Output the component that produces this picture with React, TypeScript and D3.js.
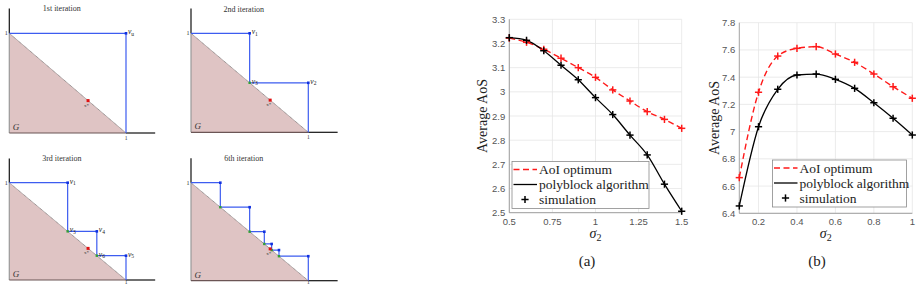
import * as d3 from 'd3';
import React from 'react';

// ---- left: polyblock iterations (normalized coordinates) ----
const iterTitles = ['1st iteration', '2nd iteration', '3rd iteration', '6th iteration'];
const outerCorners = [
  [[1, 1]],
  [[0.5, 1], [1, 0.5]],
  [[0.5, 1], [0.75, 0.5], [1, 0.25]],
  [[0.25, 1], [0.5, 0.75], [0.625, 0.5], [0.6875, 0.375], [0.75, 0.3125], [1, 0.25]],
];
const innerCorners = [
  [],
  [[0.5, 0.5]],
  [[0.5, 0.5], [0.75, 0.25]],
  [[0.25, 0.75], [0.5, 0.5], [0.625, 0.375], [0.6875, 0.3125], [0.75, 0.25]],
];
const outerLabels = [['u'], ['1', '2'], ['1', '4', '5'], []];
const innerLabels = [[], ['3'], ['3', '6'], []];
const xStar = [0.675, 0.325];

// ---- right: average AoS vs sigma_2 ----
const sigmaA = [0.5, 0.6, 0.7, 0.8, 0.9, 1.0, 1.1, 1.2, 1.3, 1.4, 1.5];
const optimumA = [3.222, 3.205, 3.176, 3.139, 3.1, 3.06, 3.008, 2.962, 2.918, 2.886, 2.849];
const polyblockA = [3.224, 3.213, 3.17, 3.11, 3.05, 2.976, 2.906, 2.821, 2.739, 2.618, 2.506];
const sigmaB = [0.1, 0.2, 0.3, 0.4, 0.5, 0.6, 0.7, 0.8, 0.9, 1.0];
const optimumB = [6.662, 7.289, 7.555, 7.612, 7.624, 7.57, 7.509, 7.423, 7.33, 7.245];
const polyblockB = [6.454, 7.036, 7.311, 7.416, 7.423, 7.384, 7.318, 7.212, 7.098, 6.975];
const xTicksA = [0.5, 0.75, 1, 1.25, 1.5];
const yTicksA = [2.5, 2.6, 2.7, 2.8, 2.9, 3, 3.1, 3.2, 3.3];
const xTicksB = [0.2, 0.4, 0.6, 0.8, 1];
const yTicksB = [6.4, 6.6, 6.8, 7, 7.2, 7.4, 7.6, 7.8];
const legendLabels = ['AoI optimum', 'polyblock algorithm', 'simulation'];

const serif = '"Liberation Serif", "DejaVu Serif", serif';
const sans = '"Liberation Sans", Arial, sans-serif';
const BLUE = '#3d5cf0';

const panels = [
  { ox: 9.3, oy: 133, ux: 116.7, uy: 99.7 },
  { ox: 191, oy: 132.3, ux: 117.3, uy: 99 },
  { ox: 9.3, oy: 280, ux: 116.7, uy: 97.3 },
  { ox: 191, oy: 280.7, ux: 117.3, uy: 98 },
];

function VLabel({ x, y, sub }) {
  return (
    <text x={x} y={y} fontFamily={serif} fontSize={7.5} fill="#222">
      <tspan fontStyle="italic">v</tspan>
      <tspan fontSize={5.5} dy={1.5}>{sub}</tspan>
    </text>
  );
}

function IterPanel({ idx }) {
  const p = panels[idx];
  const x = d3.scaleLinear().domain([0, 1]).range([p.ox, p.ox + p.ux]);
  const y = d3.scaleLinear().domain([0, 1]).range([p.oy, p.oy - p.uy]);
  const outer = outerCorners[idx];
  const inner = innerCorners[idx];
  const stair = [[0, 1]];
  outer.forEach((c, i) => {
    stair.push(c);
    stair.push(i < inner.length ? inner[i] : [1, 0]);
  });
  const line = d3.line().x(d => x(d[0])).y(d => y(d[1]));
  const tri = [[0, 0], [0, 1], [1, 0]];
  return (
    <g>
      <text x={x(0.45)} y={y(1.22)} textAnchor="middle" fontFamily={serif} fontSize={8} fill="#333">
        {iterTitles[idx]}
      </text>
      <path d={line(tri) + 'Z'} fill="#dfc4c4" stroke="none" />
      <line x1={x(0)} y1={y(1)} x2={x(1)} y2={y(0)} stroke="#555" strokeWidth={0.7} strokeDasharray="1,0.6" />
      <line x1={x(0)} y1={y(0)} x2={x(0)} y2={y(1)} stroke="#999" strokeWidth={1.2} />
      <line x1={x(0)} y1={y(0)} x2={x(1)} y2={y(0)} stroke="#6b5555" strokeWidth={1.2} />
      <line x1={x(0)} y1={y(1)} x2={x(0)} y2={y(1.25)} stroke="#111" strokeWidth={1.2} />
      <line x1={x(1)} y1={y(0)} x2={x(1.25)} y2={y(0)} stroke="#111" strokeWidth={1.2} />
      <path d={line(stair)} fill="none" stroke={BLUE} strokeWidth={1.2} />
      {outer.map((c, i) => (
        <rect key={'o' + i} x={x(c[0]) - 1.3} y={y(c[1]) - 1.3} width={2.6} height={2.6} fill="#1030e0" />
      ))}
      {inner.map((c, i) => (
        <rect key={'i' + i} x={x(c[0]) - 1.2} y={y(c[1]) - 1.2} width={2.4} height={2.4} fill="#33a033" />
      ))}
      {outerLabels[idx].map((s, i) => (
        <VLabel key={'ol' + i} x={x(outer[i][0]) + 2} y={y(outer[i][1]) + 1} sub={s} />
      ))}
      {innerLabels[idx].map((s, i) => (
        <VLabel key={'il' + i} x={x(inner[i][0]) + 2} y={y(inner[i][1]) + 1} sub={s} />
      ))}
      <rect x={x(xStar[0]) - 1.5} y={y(xStar[1]) - 1.5} width={3} height={3} fill="#e01010" />
      <text x={x(xStar[0]) - 4} y={y(xStar[1]) + 6} fontFamily={serif} fontSize={5} fill="#333">x*</text>
      <text x={x(0) - 1.5} y={y(1) + 2} textAnchor="end" fontFamily={serif} fontSize={6} fill="#333">1</text>
      <text x={x(1)} y={Math.min(y(0) + 6.5, 284)} textAnchor="middle" fontFamily={serif} fontSize={5.5} fill="#333">1</text>
      <text x={x(0.03)} y={y(0.03)} fontFamily={serif} fontStyle="italic" fontSize={9} fill="#333">G</text>
    </g>
  );
}

function Plus({ cx, cy, color }) {
  const s = 3.6;
  return (
    <g stroke={color} strokeWidth={1.5}>
      <line x1={cx - s} y1={cy} x2={cx + s} y2={cy} />
      <line x1={cx} y1={cy - s} x2={cx} y2={cy + s} />
    </g>
  );
}

function AoSChart({ xs, opt, poly, xDomain, xRange, yDomain, yRange, xTicks, yTicks, ylabX, legend, caption }) {
  const x = d3.scaleLinear().domain(xDomain).range(xRange);
  const y = d3.scaleLinear().domain(yDomain).range(yRange);
  const mk = vals => d3.line().x((d, i) => x(xs[i])).y(d => y(d)).curve(d3.curveMonotoneX)(vals);
  const fmt = v => String(+v.toFixed(2));
  const [x0, x1] = xRange;
  const [yb, yt] = yRange;
  const cx = (x0 + x1) / 2;
  return (
    <g>
      {xTicks.map(t => (
        <line key={'gx' + t} x1={x(t)} x2={x(t)} y1={yb} y2={yt} stroke="#e6e6e6" strokeWidth={0.8} />
      ))}
      {yTicks.map(t => (
        <line key={'gy' + t} x1={x0} x2={x1} y1={y(t)} y2={y(t)} stroke="#e6e6e6" strokeWidth={0.8} />
      ))}
      <line x1={x0} x2={x0} y1={yb} y2={yt} stroke="#8a8a8a" strokeWidth={0.8} />
      <line x1={x0} x2={x1} y1={yb} y2={yb} stroke="#8a8a8a" strokeWidth={0.8} />
      {xTicks.map(t => (
        <text key={'tx' + t} x={x(t)} y={yb + 12} textAnchor="middle" fontFamily={sans} fontSize={9.5} fill="#555">
          {fmt(t)}
        </text>
      ))}
      {yTicks.map(t => (
        <text key={'ty' + t} x={x0 - 4} y={y(t) + 3.5} textAnchor="end" fontFamily={sans} fontSize={9.5} fill="#555">
          {fmt(t)}
        </text>
      ))}
      <path d={mk(opt)} fill="none" stroke="#ff1a1a" strokeWidth={1.4} strokeDasharray="6,3.5" />
      <path d={mk(poly)} fill="none" stroke="#000" strokeWidth={1.3} />
      {opt.map((v, i) => <Plus key={'po' + i} cx={x(xs[i])} cy={y(v)} color="#ff1a1a" />)}
      {poly.map((v, i) => <Plus key={'pp' + i} cx={x(xs[i])} cy={y(v)} color="#000" />)}
      <text
        transform={`translate(${ylabX},${(yb + yt) / 2}) rotate(-90)`}
        textAnchor="middle"
        fontFamily={serif}
        fontSize={14}
        fill="#222"
      >
        Average AoS
      </text>
      <text x={cx} y={238} textAnchor="middle" fontFamily={serif} fontSize={14} fill="#222">
        <tspan fontStyle="italic">σ</tspan>
        <tspan fontSize={10} dy={3}>2</tspan>
      </text>
      <text x={caption.x} y={266} textAnchor="middle" fontFamily={serif} fontSize={15} fill="#222">
        {caption.text}
      </text>
      <g>
        <rect x={legend.x} y={legend.y} width={legend.w} height={legend.h} fill="#fff" stroke="#8a8a8a" strokeWidth={0.8} />
        {legendLabels.map((lab, i) => {
          const ly = legend.y + 8 + i * 15;
          return (
            <g key={lab}>
              {i === 0 && (
                <line x1={legend.x + 1.5} x2={legend.x + 25} y1={ly} y2={ly} stroke="#ff1a1a" strokeWidth={1.4} strokeDasharray="6,3.5" />
              )}
              {i === 1 && <line x1={legend.x + 1.5} x2={legend.x + 25} y1={ly} y2={ly} stroke="#000" strokeWidth={1.3} />}
              {i === 2 && <Plus cx={legend.x + 13} cy={ly} color="#000" />}
              <text x={legend.x + 27} y={ly + 4.5} fontFamily={serif} fontSize={13.5} fill="#222">
                {lab}
              </text>
            </g>
          );
        })}
      </g>
    </g>
  );
}

export default function App() {
  return (
    <svg width={922} height={285} style={{ position: 'fixed', left: 0, top: 0, background: '#fff' }}>
      <rect width={922} height={285} fill="#fff" />
      {[0, 1, 2, 3].map(i => (
        <IterPanel key={i} idx={i} />
      ))}
      <AoSChart
        xs={sigmaA}
        opt={optimumA}
        poly={polyblockA}
        xDomain={[0.5, 1.5]}
        xRange={[509.3, 681.7]}
        yDomain={[2.5, 3.3]}
        yRange={[212.7, 19.3]}
        xTicks={xTicksA}
        yTicks={yTicksA}
        ylabX={487}
        legend={{ x: 512, y: 161.5, w: 137, h: 47 }}
        caption={{ x: 587, text: '(a)' }}
      />
      <AoSChart
        xs={sigmaB}
        opt={optimumB}
        poly={polyblockB}
        xDomain={[0.1, 1]}
        xRange={[739.3, 912.3]}
        yDomain={[6.4, 7.8]}
        yRange={[213.3, 22.7]}
        xTicks={xTicksB}
        yTicks={yTicksB}
        ylabX={719}
        legend={{ x: 772.5, y: 160, w: 134, h: 47 }}
        caption={{ x: 817, text: '(b)' }}
      />
    </svg>
  );
}
